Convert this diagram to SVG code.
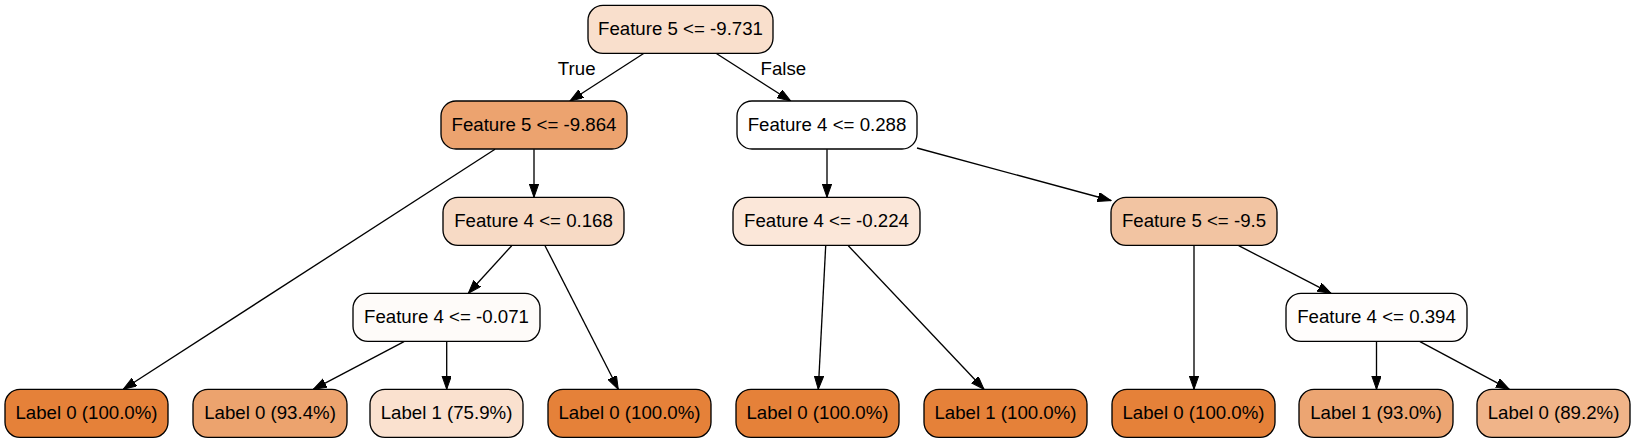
<svg xmlns="http://www.w3.org/2000/svg" width="1636" height="443" viewBox="0 0 1636 443">
<defs>
<style>
.n rect{stroke:#000;stroke-width:1.33;}
.n text{font-family:"Liberation Sans",Arial,Helvetica,sans-serif;font-size:18.67px;fill:#000;text-anchor:middle;}
.e line{stroke:#000;stroke-width:1.33;marker-end:url(#ah);}
.lbl{font-family:"Liberation Sans",Arial,Helvetica,sans-serif;font-size:18.67px;fill:#000;text-anchor:middle;}
</style>
<marker id="ah" markerUnits="userSpaceOnUse" markerWidth="14" markerHeight="10" refX="13.3" refY="4.67" orient="auto">
<path d="M0,0 L13.3,4.67 L0,9.33 Z" fill="#000" stroke="#000" stroke-width="1"/>
</marker>
</defs>
<rect width="1636" height="443" fill="#fff"/>
<g id="edges" class="e">
<line x1="644" y1="53.3" x2="570" y2="101"/>
<line x1="716" y1="53.3" x2="790.7" y2="101"/>
<line x1="495" y1="149.3" x2="123.3" y2="389.3"/>
<line x1="534" y1="149.3" x2="534" y2="197.3"/>
<line x1="511.7" y1="245.7" x2="468.3" y2="293.3"/>
<line x1="545" y1="245.7" x2="618.3" y2="389.3"/>
<line x1="404" y1="341.7" x2="313.3" y2="389.3"/>
<line x1="446.7" y1="341.7" x2="446.7" y2="389.3"/>
<line x1="827" y1="149.3" x2="827" y2="197.3"/>
<line x1="917" y1="148" x2="1111" y2="200.5"/>
<line x1="825.7" y1="245.7" x2="818.3" y2="389.3"/>
<line x1="848.3" y1="245.7" x2="984" y2="389.3"/>
<line x1="1194" y1="245.7" x2="1194" y2="389.3"/>
<line x1="1238.7" y1="245.7" x2="1331" y2="293.3"/>
<line x1="1376.5" y1="341.7" x2="1376.5" y2="389.3"/>
<line x1="1420" y1="341.7" x2="1509.3" y2="389.3"/>
<text class="lbl" x="576.7" y="75">True</text>
<text class="lbl" x="783.3" y="75">False</text>
</g>
<g id="n0" class="n"><rect x="588" y="5.3" width="185" height="48" rx="15" fill="#f9dfcc"/><text x="680.5" y="35">Feature 5 &lt;= -9.731</text></g>
<g id="n1" class="n"><rect x="441" y="101" width="186" height="48" rx="15" fill="#eca36f"/><text x="534" y="131">Feature 5 &lt;= -9.864</text></g>
<g id="n2" class="n"><rect x="737" y="101" width="180" height="48" rx="15" fill="#ffffff"/><text x="827" y="131">Feature 4 &lt;= 0.288</text></g>
<g id="n3" class="n"><rect x="443" y="197.3" width="181" height="48" rx="15" fill="#f7dac5"/><text x="533.5" y="227">Feature 4 &lt;= 0.168</text></g>
<g id="n4" class="n"><rect x="733" y="197.3" width="187" height="48" rx="15" fill="#fbe7d9"/><text x="826.5" y="227">Feature 4 &lt;= -0.224</text></g>
<g id="n5" class="n"><rect x="1111" y="197.3" width="166" height="48" rx="15" fill="#f2c4a2"/><text x="1194" y="227">Feature 5 &lt;= -9.5</text></g>
<g id="n6" class="n"><rect x="353" y="293.3" width="187" height="48" rx="15" fill="#fefbf9"/><text x="446.5" y="323">Feature 4 &lt;= -0.071</text></g>
<g id="n7" class="n"><rect x="1286" y="293.3" width="181" height="48" rx="15" fill="#fffdfc"/><text x="1376.5" y="323">Feature 4 &lt;= 0.394</text></g>
<g id="l0" class="n"><rect x="5" y="389.3" width="163" height="48" rx="15" fill="#e58139"/><text x="86.5" y="419">Label 0 (100.0%)</text></g>
<g id="l1" class="n"><rect x="193" y="389.3" width="154" height="48" rx="15" fill="#eca36e"/><text x="270" y="419">Label 0 (93.4%)</text></g>
<g id="l2" class="n"><rect x="370" y="389.3" width="153" height="48" rx="15" fill="#fae1cf"/><text x="446.5" y="419">Label 1 (75.9%)</text></g>
<g id="l3" class="n"><rect x="548" y="389.3" width="163" height="48" rx="15" fill="#e58139"/><text x="629.5" y="419">Label 0 (100.0%)</text></g>
<g id="l4" class="n"><rect x="736" y="389.3" width="163" height="48" rx="15" fill="#e58139"/><text x="817.5" y="419">Label 0 (100.0%)</text></g>
<g id="l5" class="n"><rect x="924" y="389.3" width="163" height="48" rx="15" fill="#e58139"/><text x="1005.5" y="419">Label 1 (100.0%)</text></g>
<g id="l6" class="n"><rect x="1112" y="389.3" width="163" height="48" rx="15" fill="#e58139"/><text x="1193.5" y="419">Label 0 (100.0%)</text></g>
<g id="l7" class="n"><rect x="1299" y="389.3" width="154" height="48" rx="15" fill="#eca572"/><text x="1376" y="419">Label 1 (93.0%)</text></g>
<g id="l8" class="n"><rect x="1477" y="389.3" width="153" height="48" rx="15" fill="#f0b489"/><text x="1553.5" y="419">Label 0 (89.2%)</text></g>
</svg>
